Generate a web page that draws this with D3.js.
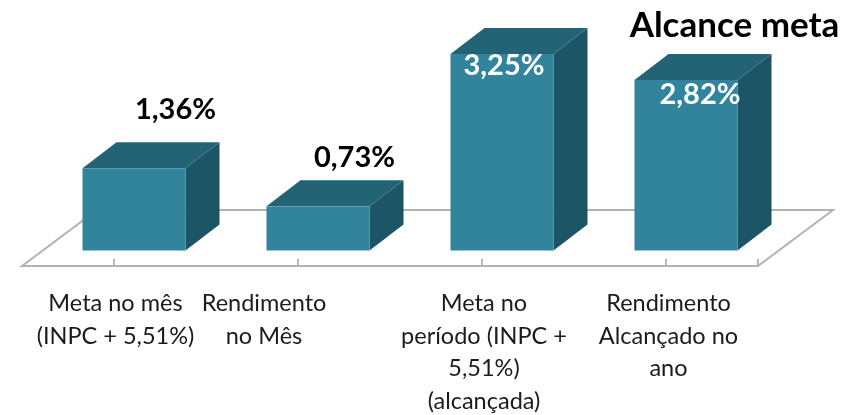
<!DOCTYPE html>
<html><head><meta charset="utf-8">
<script src="https://cdn.jsdelivr.net/npm/d3@7"></script>
<style>html,body{margin:0;padding:0;background:#fff}svg{display:block}text{font-family:Lato,"Open Sans",sans-serif}</style>
</head><body><svg width="859" height="415"></svg>
<script>
const categories=["c1","c2","c3","c4"];
const values=[1.36,0.73,3.25,2.82];
const valueLabels=["1,36%","0,73%","3,25%","2,82%"];
const categoryLines=[["Meta no mês","(INPC + 5,51%)"],["Rendimento","no Mês"],["Meta no","período (INPC +","5,51%)","(alcançada)"],["Rendimento","Alcançado no","ano"]];
const labelColors=["#000","#000","#fff","#fff"];
const title="Alcance meta";

const svg=d3.select("svg");
const soft=svg.append("defs").append("filter").attr("id","soft").attr("x","-5%").attr("y","-5%").attr("width","110%").attr("height","110%");
soft.append("feGaussianBlur").attr("stdDeviation",0.45);
const root=svg.append("g").attr("filter","url(#soft)");
root.append("rect").attr("width",859).attr("height",415).attr("fill","#fff");

const x=d3.scaleBand().domain(categories).range([22,758]);
const y=d3.scaleLinear().domain([0,3.25]).range([250.5,54]);
const barW=103,dx=34,dy=26,barOff=(x.bandwidth()-barW)/2+20;
const floorY=266,floorBack=210,floorDx=75;

root.append("path").attr("d",`M${x.range()[0]},${floorY}L${x.range()[0]+floorDx},${floorBack}L${x.range()[1]+floorDx},${floorBack}L${x.range()[1]},${floorY}Z`)
 .attr("fill","#fff").attr("stroke","#b3b3b3").attr("stroke-width",2);

const axis=d3.axisBottom(x).tickSize(6).tickFormat("");
const ag=root.append("g").attr("transform",`translate(0,${floorY-7})`).call(axis);
ag.select(".domain").remove();
ag.selectAll("line").attr("stroke","#8c8c8c").attr("stroke-width",1.2);
root.append("line").attr("x1",x.range()[1]).attr("x2",x.range()[1]).attr("y1",floorY-7).attr("y2",floorY-1).attr("stroke","#8c8c8c").attr("stroke-width",1.2);

const g=root.selectAll(".bar").data(values).join("g").attr("class","bar");
const X=(d,i)=>x(categories[i])+barOff, Y0=y(0);
g.append("path").attr("fill","#1f5465").attr("d",(d,i)=>{const a=X(d,i)+barW,t=y(d);return `M${a},${t}l${dx},${-dy}V${Y0-dy}L${a},${Y0}Z`});
g.append("path").attr("fill","#246475").attr("d",(d,i)=>{const a=X(d,i),t=y(d);return `M${a},${t}l${dx},${-dy}h${barW}l${-dx},${dy}Z`});
g.append("rect").attr("fill","#31849c").attr("x",(d,i)=>X(d,i)).attr("y",d=>y(d)).attr("width",barW).attr("height",d=>Y0-y(d));

const labelDy=[-49,-39,21,24], labelDx=[41.5,36.5,2,14];
root.selectAll(".val").data(values).join("text").attr("class","val")
 .attr("x",(d,i)=>X(d,i)+barW/2+labelDx[i]).attr("y",(d,i)=>y(d)+labelDy[i])
 .attr("text-anchor","middle").attr("font-size",29).attr("font-weight",700)
 .attr("fill",(d,i)=>labelColors[i]).text((d,i)=>valueLabels[i]);

const capG=root.selectAll(".cat").data(categoryLines).join("text").attr("class","cat")
 .attr("text-anchor","middle").attr("font-size",23.5).attr("fill","#1a1a1a");
const capX=[115.5,264,484,668.5];
capG.selectAll("tspan").data((d,i)=>d.map(s=>({s,i}))).join("tspan")
 .attr("x",d=>capX[d.i]).attr("y",(d,j)=>311+j*32.5).text(d=>d.s);

root.append("text").attr("x",734.5).attr("y",37).attr("text-anchor","middle").attr("font-size",35).attr("font-weight",700).attr("fill","#000").text(title);
</script></body></html>
